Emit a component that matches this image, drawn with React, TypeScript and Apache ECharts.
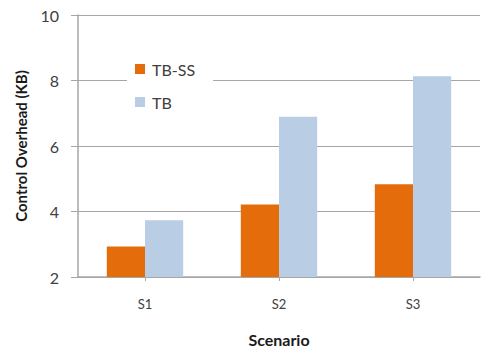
import React, { useEffect, useRef } from "react";
import * as echarts from "echarts";

const scenarios = ["S1", "S2", "S3"];
const tbSs = [2.93, 4.21, 4.83];
const tb = [3.73, 6.89, 8.13];
const yTicks = { min: 2, max: 10, interval: 2 };

const FONT = "Lato, 'Open Sans', sans-serif";

export default function App() {
  const ref = useRef<HTMLDivElement>(null);

  useEffect(() => {
    if (!ref.current) return;
    const chart = echarts.init(ref.current, null, { renderer: "svg" });
    chart.setOption({
      animation: false,
      backgroundColor: "#ffffff",
      textStyle: { fontFamily: FONT },
      grid: { left: 78, right: 1, top: 15, bottom: 70 },
      legend: {
        orient: "vertical",
        left: 127,
        top: 53,
        padding: [8, 18, 8, 8],
        backgroundColor: "#ffffff",
        itemWidth: 10,
        itemHeight: 10,
        itemGap: 17,
        icon: "rect",
        textStyle: { fontFamily: FONT, fontSize: 16, color: "#404040", padding: [0, 0, 0, 2] },
        data: ["TB-SS", "TB"],
      },
      xAxis: {
        type: "category",
        data: scenarios,
        name: "Scenario",
        nameLocation: "middle",
        nameGap: 54,
        nameTextStyle: { fontFamily: FONT, fontSize: 16, fontWeight: "bold", color: "#1a1a1a" },
        axisLine: { show: true, lineStyle: { color: "#a6a6a6", width: 1.5 } },
        axisTick: { show: true, alignWithLabel: true, length: 4, lineStyle: { color: "#a6a6a6" } },
        axisLabel: { fontFamily: FONT, fontSize: 13, color: "#404040", margin: 20 },
      },
      yAxis: {
        type: "value",
        min: yTicks.min,
        max: yTicks.max,
        interval: yTicks.interval,
        name: "Control Overhead (KB)",
        nameLocation: "middle",
        nameGap: 50,
        nameRotate: 90,
        nameTextStyle: { fontFamily: FONT, fontSize: 15, fontWeight: "bold", color: "#1a1a1a" },
        axisLine: { show: true, lineStyle: { color: "#a6a6a6", width: 1.5 } },
        axisTick: { show: true, length: 7, lineStyle: { color: "#a6a6a6" } },
        axisLabel: { fontFamily: FONT, fontSize: 16, color: "#404040", margin: 19 },
        splitLine: { show: true, lineStyle: { color: "#a6a6a6", width: 1.2 } },
      },
      series: [
        {
          name: "TB-SS",
          type: "bar",
          data: tbSs,
          barGap: "0%",
          barCategoryGap: "43%",
          itemStyle: { color: "#e46c0a" },
        },
        {
          name: "TB",
          type: "bar",
          data: tb,
          itemStyle: { color: "#b9cde5" },
        },
      ],
    });
    return () => chart.dispose();
  }, []);

  return <div ref={ref} style={{ width: 481, height: 352, position: "absolute", left: 0, top: 0 }} />;
}
